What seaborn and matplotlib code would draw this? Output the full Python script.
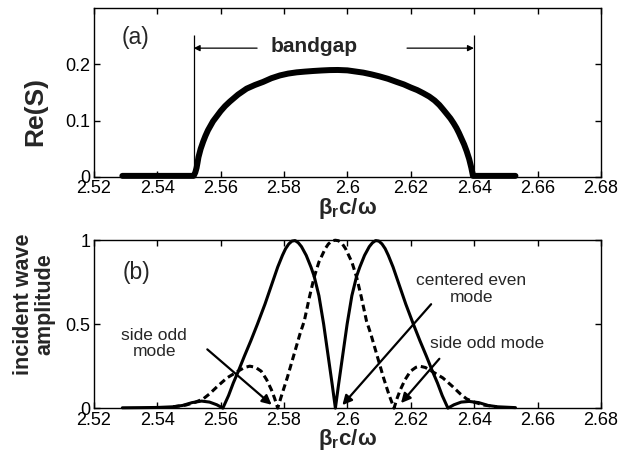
import matplotlib
matplotlib.use("Agg")
import matplotlib.pyplot as plt
import seaborn as sns

# ---------------- data ----------------
# panel (a): Re(S) vs beta_r c / omega
res_x = [2.529, 2.540, 2.5515, 2.552, 2.5524, 2.5527, 2.553, 2.5537, 2.5545, 2.5552,
         2.556, 2.5568, 2.5576, 2.5588, 2.560, 2.5614, 2.5629, 2.5655, 2.5682, 2.5708,
         2.5734, 2.576, 2.5787, 2.5813, 2.584, 2.5866, 2.5892, 2.5918, 2.5944, 2.597,
         2.600, 2.6025, 2.605, 2.6075, 2.610, 2.6128, 2.6155, 2.6178, 2.620, 2.622,
         2.6239, 2.6258, 2.6275, 2.629, 2.6302, 2.6315, 2.6325, 2.6335, 2.6344, 2.6352,
         2.636, 2.6368, 2.6376, 2.6384, 2.6391, 2.6396, 2.646, 2.653]
res_y = [0.002, 0.002, 0.002, 0.008, 0.016, 0.025, 0.035, 0.050, 0.063, 0.073,
         0.083, 0.091, 0.099, 0.108, 0.117, 0.126, 0.134, 0.1465, 0.157, 0.1635,
         0.169, 0.1755, 0.1805, 0.1838, 0.186, 0.1873, 0.1884, 0.1893, 0.190, 0.1902,
         0.1895, 0.1875, 0.1855, 0.1825, 0.179, 0.1745, 0.169, 0.1645, 0.159, 0.1545,
         0.149, 0.143, 0.136, 0.128, 0.120, 0.111, 0.104, 0.0955, 0.087, 0.078,
         0.068, 0.058, 0.046, 0.032, 0.016, 0.002, 0.002, 0.002]

# panel (b): incident wave amplitude, solid curve
solid_x = [2.529, 2.535, 2.540, 2.545, 2.548, 2.551, 2.554, 2.5565, 2.5588, 2.5607,
           2.5625, 2.564, 2.5655, 2.5675, 2.5695, 2.5716, 2.574, 2.576, 2.578, 2.5795,
           2.5805, 2.5815, 2.5825, 2.5835, 2.5845, 2.5855, 2.587, 2.5885, 2.5895, 2.591,
           2.5925, 2.594, 2.5952, 2.5962,
           2.5972, 2.5984, 2.5999, 2.6014, 2.6029, 2.6039, 2.6054, 2.6069, 2.6079, 2.6089,
           2.6099, 2.6109, 2.6119, 2.6129, 2.6144, 2.6164, 2.6184, 2.6208, 2.6229, 2.6249,
           2.6269, 2.6284, 2.6299, 2.6317, 2.6336, 2.6359, 2.6384, 2.6414, 2.6444, 2.6474,
           2.653]
solid_y = [0.002, 0.003, 0.004, 0.008, 0.016, 0.033, 0.042, 0.036, 0.020, 0.0,
           0.075, 0.15, 0.216, 0.31, 0.40, 0.50, 0.62, 0.73, 0.84, 0.91,
           0.95, 0.978, 0.995, 0.998, 0.985, 0.962, 0.91, 0.84, 0.786, 0.67,
           0.50, 0.30, 0.14, 0.0,
           0.14, 0.30, 0.50, 0.67, 0.786, 0.84, 0.91, 0.962, 0.985, 0.998,
           0.995, 0.978, 0.95, 0.91, 0.84, 0.73, 0.62, 0.50, 0.40, 0.31,
           0.216, 0.15, 0.075, 0.0, 0.020, 0.036, 0.040, 0.033, 0.016, 0.008,
           0.003]

# panel (b): dashed curve
dashed_x = [2.545, 2.549, 2.552, 2.5545, 2.5565, 2.559, 2.562, 2.5655, 2.5675, 2.5692,
            2.571, 2.5728, 2.5745, 2.576, 2.577, 2.578, 2.5793, 2.581, 2.583, 2.585,
            2.5864, 2.588, 2.5895, 2.591, 2.593, 2.594, 2.5952, 2.5962, 2.5972, 2.5984,
            2.5994, 2.6014, 2.6029, 2.6044, 2.606, 2.6074, 2.6094, 2.6114, 2.6131, 2.6147,
            2.6157, 2.6167, 2.6182, 2.6199, 2.6216, 2.6228, 2.6246, 2.6266, 2.6301, 2.6331,
            2.6356, 2.6376, 2.6401, 2.6431, 2.6471]
dashed_y = [0.008, 0.018, 0.035, 0.055, 0.085, 0.13, 0.18, 0.22, 0.242, 0.25,
            0.243, 0.22, 0.17, 0.11, 0.06, 0.0, 0.08, 0.18, 0.31, 0.44,
            0.52, 0.66, 0.78, 0.87, 0.95, 0.978, 0.997, 1.0, 0.997, 0.978,
            0.95, 0.87, 0.78, 0.66, 0.52, 0.44, 0.31, 0.18, 0.08, 0.0,
            0.06, 0.11, 0.17, 0.22, 0.243, 0.25, 0.242, 0.22, 0.18, 0.13,
            0.085, 0.055, 0.035, 0.018, 0.008]

x_ticks = [2.52, 2.54, 2.56, 2.58, 2.60, 2.62, 2.64, 2.66, 2.68]
x_tick_labels = ["2.52", "2.54", "2.56", "2.58", "2.6", "2.62", "2.64", "2.66", "2.68"]
a_yticks = [0, 0.1, 0.2]
a_ytick_labels = ["0", "0.1", "0.2"]
b_yticks = [0, 0.5, 1]
b_ytick_labels = ["0", "0.5", "1"]

bandgap_edges = [2.5515, 2.6399]
bandgap_line_top = 0.253
bandgap_arrow_y = 0.229
bandgap_arrow_tails = [2.5715, 2.6188]

# annotation arrows in (b): (tail x, tail y, head x, head y)
b_arrows = [(2.5558, 0.35, 2.5761, 0.02),
            (2.6264, 0.619, 2.5984, 0.018),
            (2.6290, 0.294, 2.6169, 0.03)]

# ---------------- style ----------------
sns.set_style("ticks")
plt.rcParams["font.family"] = ["Liberation Sans", "DejaVu Sans"]
plt.rcParams["mathtext.fontset"] = "custom"
plt.rcParams["mathtext.rm"] = "Liberation Sans"
plt.rcParams["mathtext.it"] = "Liberation Sans:italic"
plt.rcParams["mathtext.bf"] = "Liberation Sans:bold"
plt.rcParams["mathtext.default"] = "bf"

fig = plt.figure(figsize=(6.34, 4.55), dpi=100)
axa = fig.add_axes([0.148, 0.611, 0.800, 0.371])
axb = fig.add_axes([0.148, 0.103, 0.800, 0.369])

for ax in (axa, axb):
    ax.set_xlim(2.52, 2.68)
    ax.set_xticks(x_ticks)
    ax.set_xticklabels(x_tick_labels)
    ax.tick_params(direction="in", length=4, width=1, top=True, right=True,
                   labelsize=13, pad=2.5, colors="k")
    for s in ax.spines.values():
        s.set_linewidth(1.0)
        s.set_color("k")
        s.set_visible(True)
    ax.set_xlabel(r"$\beta_r c/\omega$", fontsize=16, labelpad=-1)

# ---------------- panel (a) ----------------
sns.lineplot(x=res_x, y=res_y, ax=axa, color="k", lw=4.3, sort=False,
             estimator=None, clip_on=False)
axa.set_ylim(0, 0.3)
axa.set_yticks(a_yticks)
axa.set_yticklabels(a_ytick_labels)
axa.set_ylabel("Re(S)", fontsize=19, fontweight="bold", va="center")
axa.yaxis.set_label_coords(-0.116, 0.39)

axa.vlines(bandgap_edges, 0, bandgap_line_top, color="k", lw=0.9)
for edge, tail in zip(bandgap_edges, bandgap_arrow_tails):
    axa.annotate("", xy=(edge, bandgap_arrow_y), xytext=(tail, bandgap_arrow_y),
                 arrowprops=dict(arrowstyle="-|>", color="k", lw=0.9,
                                 mutation_scale=9, shrinkA=0, shrinkB=0))
axa.text(2.5894, 0.232, "bandgap", fontsize=15, fontweight="bold",
         ha="center", va="center")
axa.text(2.5330, 0.248, "(a)", fontsize=16.5, ha="center", va="center")

# ---------------- panel (b) ----------------
sns.lineplot(x=solid_x, y=solid_y, ax=axb, color="k", lw=2.2, sort=False,
             estimator=None, clip_on=False)
sns.lineplot(x=dashed_x, y=dashed_y, ax=axb, color="k", lw=2.2, sort=False,
             estimator=None, clip_on=False, linestyle="--")
axb.lines[-1].set_dashes([2.2, 1.3])
axb.set_ylim(0, 1)
axb.set_yticks(b_yticks)
axb.set_yticklabels(b_ytick_labels)
axb.set_ylabel("incident wave\namplitude", fontsize=15.5, fontweight="bold",
               va="center", linespacing=1.05)
axb.yaxis.set_label_coords(-0.118, 0.62)

axb.text(2.5335, 0.81, "(b)", fontsize=16.5, ha="center", va="center")
axb.text(2.5390, 0.385, "side odd\nmode", fontsize=12.5, ha="center", va="center",
         linespacing=1.1)
axb.text(2.6390, 0.71, "centered even\nmode", fontsize=12.5, ha="center",
         va="center", linespacing=1.1)
axb.text(2.6440, 0.387, "side odd mode", fontsize=12.5, ha="center", va="center")
for tx, ty, hx, hy in b_arrows:
    axb.annotate("", xy=(hx, hy), xytext=(tx, ty),
                 arrowprops=dict(arrowstyle="-|>", color="k", lw=1.6,
                                 mutation_scale=14, shrinkA=0, shrinkB=0))

fig.savefig("out.png", dpi=100)
